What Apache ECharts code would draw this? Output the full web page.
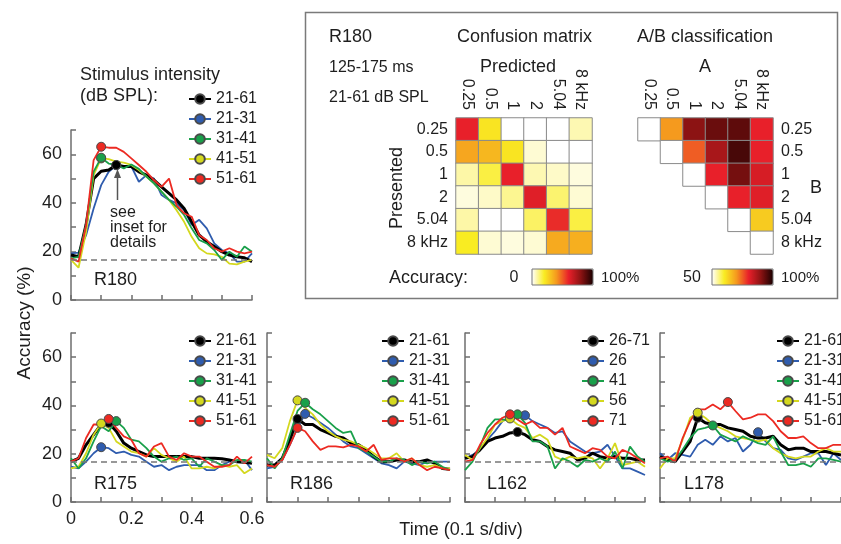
<!DOCTYPE html>
<html><head><meta charset="utf-8">
<script src="https://cdn.jsdelivr.net/npm/echarts@6/dist/echarts.min.js"></script>
<style>html,body{margin:0;padding:0;background:#fff}#c{width:841px;height:544px}</style>
</head><body><div id="c"></div>
<script>
// ---------------- DATA ----------------
const TIME = [0,0.025,0.05,0.075,0.1,0.125,0.15,0.175,0.2,0.225,0.25,0.275,0.3,0.325,0.35,0.375,0.4,0.425,0.45,0.475,0.5,0.525,0.55,0.575,0.6];
const CHANCE = 16.67;

const NAMES_STD = ['21-61','21-31','31-41','41-51','51-61'];
const NAMES_L162 = ['26-71','26','41','56','71'];

const R180_BLACK  = [18.5,17.8,31,50,53,53.5,55.6,55,55,52.8,51.4,49.4,46.6,43.9,41.2,37.7,32.2,26.7,24,22,19.9,18.5,17.8,17.4,15.8];
const R180_BLUE   = [19.2,19.5,26.7,37.7,47.3,52.8,55.5,55,55,48.7,51.4,50,43.2,41.2,39.8,37,30.9,33,29.5,23.3,20.6,19.2,15.8,15.8,19.2];
const R180_GREEN  = [17.1,17.8,30.9,52.8,58.6,56.2,55.6,54.2,55.8,54,50.8,48,44.6,41.2,38.4,35,29.5,24.7,23.3,20.6,16.5,19.9,17.8,22,19.9];
const R180_YELLOW = [16.5,13.3,28,51.4,58.3,58,57,56.6,55.6,53.5,50.8,48,44.6,41.2,37,32.2,26,21.3,19.2,18.8,17.8,15,14.7,15.8,16.5];
const R180_RED    = [17.1,15.8,30.9,57.6,63.1,62.7,62.7,61,58.3,55.6,52.8,49.4,46.6,50,39,35.7,34.3,26.7,24.7,21.3,19.9,21.3,19.9,19.2,19.9];

const R175_BLACK  = [16.7,18.1,23.7,27.9,32.1,32.8,29.3,24.4,22.3,20.9,19.5,18.8,18.8,18.8,18.8,18.8,18.8,18.1,18.1,18.1,17.9,17.4,16.7,16.5,16];
const R175_BLUE   = [14.6,13.9,16.7,20.2,22.7,22.3,20.2,20.9,19.5,18.8,16.7,14.6,15.3,13.2,14.6,15.3,15.3,15.3,13.2,13.2,15.3,16.7,16.7,17.4,13.2];
const R175_GREEN  = [18.1,13.9,18.1,25.1,31.4,29.3,33.5,30.7,25.8,25.1,22.3,18.8,16.7,18.1,18.8,17.4,18.1,14.6,18.1,16.7,15.3,15.3,17.4,17.4,16.7];
const R175_YELLOW = [13.9,14.6,20.2,27.9,32.5,30.7,25.1,23,20.9,20.2,18.8,22.3,19.5,18.1,16.7,18.8,13.9,13.9,14.6,13.9,15.3,14.6,15.3,11.9,13.9];
const R175_RED    = [16.7,18.1,26.5,32.1,32.1,34.4,30.7,27.2,25.8,20.2,18.8,23,24.4,18.8,17.4,20.2,18.8,18.8,16.7,14.6,14.6,15.3,18.8,16,18.8];

const R186_BLACK  = [15.3,15.3,18.1,25.8,34.4,32.1,32.1,30,28.6,27.2,26.5,24.4,23.7,21.6,18.8,16.7,16.7,17.4,17.4,16.7,16.7,17.4,16,13.9,13.6];
const R186_BLUE   = [13.9,14.6,17.4,23.7,30.7,36.5,34.9,32.8,30.7,27.9,25.1,23,22.3,20.2,18.1,16,15.3,13.9,16.7,16,15.3,16.7,16.7,16.7,16.7];
const R186_GREEN  = [18.1,13.9,18.1,27.9,37.7,41.1,38.4,36.3,33.5,30.7,28.6,29.3,22.3,20.9,18.8,16.7,16.7,18.1,17.4,15.3,16.7,16,16.7,14.6,13.2];
const R186_YELLOW = [19.5,18.1,22.3,33.5,42.1,39,36.3,32.1,29.3,27.2,25.8,25.1,23.7,22.3,20.2,18.1,18.1,20.2,16.7,18.1,15.3,14.6,15.3,13.9,13.9];
const R186_RED    = [15.3,14.6,17.4,23.7,30.7,29.3,25.1,21.6,23,23,22.6,23.7,23,20.9,23.7,17.4,18.1,18.1,16.7,18.1,15.3,13.2,14.6,13.9,13.2];

const L162_BLACK  = [18.1,18.8,21.6,25.1,26.5,27.2,28.6,29,27.9,25.8,25.1,23,21.6,20.9,20.2,17.4,18.1,20.2,18.8,18.1,18.8,18.1,18.1,17.4,17.4];
const L162_BLUE   = [18.1,19.5,21.6,25.8,29.3,33.5,35.6,35.5,35.9,33.5,32.1,30.7,28.6,29.3,25.1,23,20.9,20.2,20.9,23.7,18.8,13.9,13.9,12.6,11.2];
const L162_GREEN  = [13.2,16.7,23,30.7,34.2,34.2,33.5,36.3,32.8,25.1,25.1,23,13.9,18.1,16.7,14.6,17.4,16.7,18.1,16.7,20.9,13.9,23,18.8,16.7];
const L162_YELLOW = [19.5,17.4,22.3,26.5,32.1,33.5,34.6,32.1,30.7,26.5,27.9,25.8,18.8,17.4,18.8,18.1,18.8,18.1,13.9,18.1,24.4,15.3,16,16.7,14.6];
const L162_RED    = [16.7,17.4,23.7,28.6,32.1,34.9,36.3,34.2,32.1,33.5,30.7,30.7,27.9,30.7,23,21.6,20.2,22.3,21.6,18.8,18.1,21.6,20.2,18.1,16];

const L178_BLACK  = [18.8,17.4,16.7,20.9,25.1,34.9,32.8,32.1,32.1,30.7,30,29.3,27.2,26.5,26.5,27.2,23.7,21.6,22.3,22.3,20.9,20.9,20.9,20.2,19.5];
const L178_BLUE   = [20.2,17.4,20.2,19.5,18.8,23.7,25.8,23.7,27.2,25.1,26.5,20.9,23.7,28.9,25.1,22.3,21.6,18.1,17.4,18.8,20.2,20.2,15.3,20.2,17.4];
const L178_GREEN  = [18.1,16.7,17.4,21.6,26.5,30,30.7,31.7,27.9,26.5,25.1,27.2,25.8,24.4,23.7,27.2,20.9,15.3,15.3,16,14.6,18.1,18.1,17.4,16.7];
const L178_YELLOW = [13.9,18.1,18.1,25.8,34.9,37,34.9,32.1,30.7,29.3,27.2,26.5,25.8,25.1,25.8,22.3,20.2,18.8,18.1,18.8,18.8,20.9,22.3,20.9,20.9];
const L178_RED    = [18.1,18.8,16.7,26.5,33.5,38.4,38.4,40.4,38.4,41.4,37.7,34.2,34.9,36.3,36.3,33.5,29.3,26.5,26.5,27.2,24.4,22.3,22.3,23.7,23.7];

// Confusion matrix (rows = presented, cols = predicted), % accuracy
const FREQ_LABELS = ['0.25','0.5','1','2','5.04','8 kHz'];
const CONF_ROW_025 = [60,22,0,0,0,7];
const CONF_ROW_05  = [37,33,22,4,0,0];
const CONF_ROW_1   = [8,17,60,7,5,3];
const CONF_ROW_2   = [3,5,10,62,13,4];
const CONF_ROW_504 = [8,0,0,14,58,17];
const CONF_ROW_8   = [20,4,3,4,36,35];
// A/B classification (upper triangle incl. diagonal), % correct
const AB_ROW_025 = [50,70,90,93,94,80];
const AB_ROW_05  = [null,50,75,87,96,80];
const AB_ROW_1   = [null,null,50,80,92,82];
const AB_ROW_2   = [null,null,null,50,80,81];
const AB_ROW_504 = [null,null,null,null,50,64];
const AB_ROW_8   = [null,null,null,null,null,50];

// ---------------- STYLE / LAYOUT ----------------
const FONT = '"Liberation Sans", Arial, sans-serif';
const TXT = '#1e1e1e';
const AXC = '#6e6e6e';
const COLORS = {black:'#000000', blue:'#2f5cae', green:'#19a04a', yellow:'#d4d81e', red:'#ec2a22'};
const KEYS = ['black','blue','green','yellow','red'];
const DRAW_ORDER = ['blue','black','yellow','green','red'];
const CMAP = ['#ffffff','#f9ec22','#f59a1e','#e8202a','#8c1313','#1a0000'];

const PANELS = [
  {label:'R180', names:NAMES_STD, d:{black:R180_BLACK,blue:R180_BLUE,green:R180_GREEN,yellow:R180_YELLOW,red:R180_RED}},
  {label:'R175', names:NAMES_STD, d:{black:R175_BLACK,blue:R175_BLUE,green:R175_GREEN,yellow:R175_YELLOW,red:R175_RED}},
  {label:'R186', names:NAMES_STD, d:{black:R186_BLACK,blue:R186_BLUE,green:R186_GREEN,yellow:R186_YELLOW,red:R186_RED}},
  {label:'L162', names:NAMES_L162, d:{black:L162_BLACK,blue:L162_BLUE,green:L162_GREEN,yellow:L162_YELLOW,red:L162_RED}},
  {label:'L178', names:NAMES_STD, d:{black:L178_BLACK,blue:L178_BLUE,green:L178_GREEN,yellow:L178_YELLOW,red:L178_RED}}
];
const LAYOUT = [
  {left:71, top:130, width:181, height:170, lgLeft:188, lgTop:89, lbX:94, lbY:280, yLab:true, xLab:false},
  {left:71, top:333, width:181, height:169, lgLeft:188, lgTop:331, lbX:94, lbY:484, yLab:true, xLab:true},
  {left:267, top:333, width:183, height:169, lgLeft:381, lgTop:331, lbX:290, lbY:484, yLab:false, xLab:false},
  {left:465, top:333, width:180, height:169, lgLeft:581, lgTop:331, lbX:487, lbY:484, yLab:false, xLab:false},
  {left:660, top:333, width:181, height:169, lgLeft:776, lgTop:331, lbX:684, lbY:484, yLab:false, xLab:false}
];
const CONF_GRID = {left:456, top:118, width:136, height:136};
const AB_GRID = {left:638, top:118, width:135, height:136};

// ---------------- BUILD ----------------
const grids = [], xAxes = [], yAxes = [], series = [], legends = [], graphics = [];
function argmax(a){let m=0;for(let i=1;i<a.length;i++) if(a[i]>a[m]) m=i;return m;}

PANELS.forEach((p, gi) => {
  const L = LAYOUT[gi];
  grids.push({left:L.left, top:L.top, width:L.width, height:L.height});
  xAxes.push({type:'value', gridIndex:gi, min:0, max:0.6, interval:0.1,
    axisLine:{lineStyle:{color:AXC, width:1.5}},
    axisTick:{inside:true, length:5, lineStyle:{color:AXC, width:1.5}},
    splitLine:{show:false},
    axisLabel:{show:L.xLab, fontSize:18, fontFamily:FONT, color:TXT, margin:8,
      formatter:v => (Math.round(v*10)%2===0 ? String(+v.toFixed(1)) : '')}});
  yAxes.push({type:'value', gridIndex:gi, min:0, max:70, interval:10,
    axisLine:{show:true, lineStyle:{color:AXC, width:1.5}},
    axisTick:{show:true, inside:true, length:5, lineStyle:{color:AXC, width:1.5}},
    splitLine:{show:false},
    axisLabel:{show:L.yLab, fontSize:18, fontFamily:FONT, color:TXT, margin:9,
      formatter:v => (v%20===0 ? String(v) : '')}});
  DRAW_ORDER.forEach((k, si) => {
    const arr = p.d[k];
    const mi = argmax(arr);
    const name = p.names[KEYS.indexOf(k)];
    const s = {
      type:'line', name:name, xAxisIndex:gi, yAxisIndex:gi,
      data: TIME.map((t,i) => i===mi ? {value:[t,arr[i]]} : {value:[t,arr[i]], symbol:'none'}),
      symbol:'circle', symbolSize:9, showSymbol:true,
      lineStyle:{color:COLORS[k], width: k==='black'?3:1.8},
      itemStyle:{color:COLORS[k], borderColor:'#4a4a4a', borderWidth:1},
      emphasis:{disabled:true}, silent:true, z: 3
    };
    if (si===0) {
      s.markLine = {silent:true, symbol:'none', label:{show:false},
        lineStyle:{type:[6,4], color:'#777', width:1.5}, data:[{yAxis:CHANCE}], animation:false};
    }
    series.push(s);
  });
  legends.push({orient:'vertical', left:L.lgLeft, top:L.lgTop, padding:0, itemGap:0,
    itemWidth:22, itemHeight:12, selectedMode:false, data:p.names,
    textStyle:{fontSize:16, fontFamily:FONT, color:TXT, lineHeight:20}});
  graphics.push({type:'text', x:L.lbX, y:L.lbY, style:{text:p.label, font:'18px '+FONT, fill:TXT, verticalAlign:'middle'}});
});

// Heatmap grids
const CONF = [CONF_ROW_025,CONF_ROW_05,CONF_ROW_1,CONF_ROW_2,CONF_ROW_504,CONF_ROW_8];
const AB = [AB_ROW_025,AB_ROW_05,AB_ROW_1,AB_ROW_2,AB_ROW_504,AB_ROW_8];
const hmAxis = (gi, pos, isY) => ({type:'category', gridIndex:gi, data:FREQ_LABELS, position:pos,
  inverse: !!isY, axisLine:{show:false}, axisTick:{show:false}, splitLine:{show:false},
  axisLabel:{interval:0, fontSize:16, fontFamily:FONT, color:TXT, margin:8, rotate: isY?0:90}});
[CONF_GRID, AB_GRID].forEach((g, k) => {
  const gi = 5 + k;
  grids.push({left:g.left, top:g.top, width:g.width, height:g.height});
  xAxes.push(hmAxis(gi,'top',false));
  yAxes.push(hmAxis(gi, k===0?'left':'right', true));
});
const confData = [], abData = [];
CONF.forEach((row, r) => row.forEach((v, c) => confData.push([c, r, v])));
AB.forEach((row, r) => row.forEach((v, c) => { if (v !== null) abData.push([c, r, v]); }));
const confIdx = series.length;
series.push({type:'heatmap', xAxisIndex:5, yAxisIndex:5, data:confData,
  itemStyle:{borderColor:'#8a8a8a', borderWidth:1}, emphasis:{disabled:true}, silent:true});
const abIdx = series.length;
series.push({type:'heatmap', xAxisIndex:6, yAxisIndex:6, data:abData,
  itemStyle:{borderColor:'#8a8a8a', borderWidth:1}, emphasis:{disabled:true}, silent:true});

const visualMaps = [
  {type:'continuous', seriesIndex:confIdx, min:0, max:100, orient:'horizontal', left:532, top:269,
   itemWidth:16, itemHeight:61, padding:0, calculable:false, hoverLink:false, inRange:{color:CMAP}},
  {type:'continuous', seriesIndex:abIdx, min:50, max:100, orient:'horizontal', left:712, top:269,
   itemWidth:16, itemHeight:61, padding:0, calculable:false, hoverLink:false, inRange:{color:CMAP}}
];

// Text & decorations
function T(text, x, y, size, align, extra){
  return Object.assign({type:'text', x:x, y:y, silent:true,
    style:{text:text, font:size+'px '+FONT, fill:TXT, align:align||'left', verticalAlign:'middle'}}, extra||{});
}
graphics.push(
  {type:'rect', shape:{x:305.5, y:12.5, width:532, height:286}, style:{fill:'none', stroke:'#7a7a7a', lineWidth:1.5}, silent:true},
  T('Stimulus intensity', 80, 75, 18),
  T('(dB SPL):', 80, 96, 18),
  T('R180', 329, 37, 18),
  T('Confusion matrix', 457, 37, 18),
  T('A/B classification', 637, 37, 18),
  T('125-175 ms', 329, 68, 16),
  T('21-61 dB SPL', 329, 98, 16),
  T('Predicted', 518, 67, 18, 'center'),
  T('A', 705, 67, 18, 'center'),
  T('B', 816, 188, 18, 'center'),
  T('Presented', 397, 188, 18, 'center', {rotation:Math.PI/2}),
  T('Accuracy:', 389, 278, 18),
  T('0', 514, 278, 16, 'center'),
  T('100%', 601, 278, 15),
  T('50', 683, 278, 16),
  T('100%', 781, 278, 15),
  {type:'rect', shape:{x:532, y:269, width:61, height:16}, style:{fill:'none', stroke:'#777', lineWidth:1}, silent:true, z:10},
  {type:'rect', shape:{x:712, y:269, width:61, height:16}, style:{fill:'none', stroke:'#777', lineWidth:1}, silent:true, z:10},
  {type:'polyline', shape:{points:[[117.5,200],[117.5,175]]}, style:{stroke:'#555', lineWidth:1.5}, silent:true},
  {type:'polygon', shape:{points:[[117.5,169],[114,178],[121,178]]}, style:{fill:'#555'}, silent:true},
  T('see', 110, 213, 16),
  T('inset for', 110, 228, 16),
  T('details', 110, 243, 16),
  T('Accuracy (%)', 25, 323, 19, 'center', {rotation:Math.PI/2}),
  T('Time (0.1 s/div)', 461, 530, 18, 'center')
);

const chart = echarts.init(document.getElementById('c'), null, {renderer:'canvas'});
chart.setOption({
  animation:false, backgroundColor:'#ffffff',
  textStyle:{fontFamily:FONT},
  grid:grids, xAxis:xAxes, yAxis:yAxes, series:series, legend:legends,
  visualMap:visualMaps, graphic:graphics
});
</script></body></html>
